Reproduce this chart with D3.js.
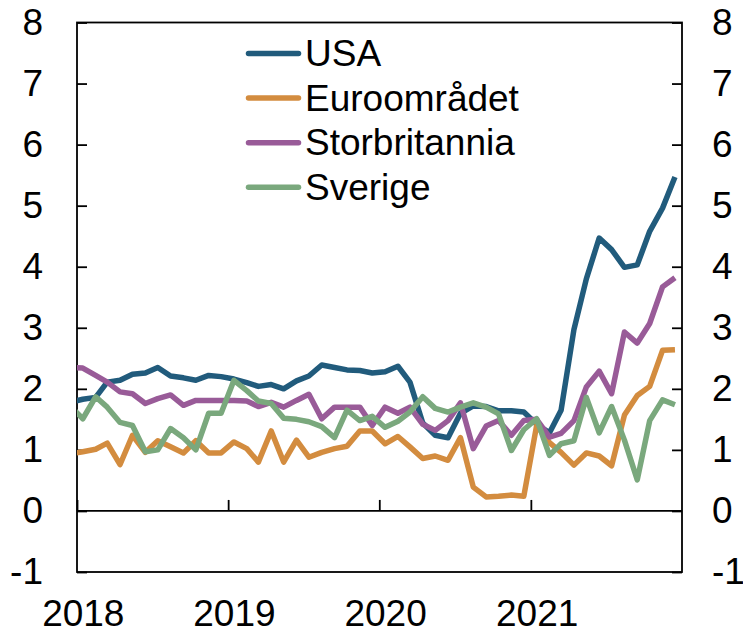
<!DOCTYPE html>
<html>
  <head>
    <meta charset="utf-8">
    <script src="https://d3js.org/d3.v7.min.js"></script>
    <style>
      body { margin: 0; background: #fff; }
      text { font-family: "Liberation Sans", Arial, sans-serif; }
    </style>
  </head>
  <body>
    <svg width="743" height="632"></svg>
    <script>
      // monthly values, Dec 2017 .. Dec 2021 (first point sits left of the frame and is clipped)
      var startMonth = "2017-12";
      var usa = [1.78,
        1.83, 1.86, 2.11, 2.14, 2.24, 2.26, 2.35, 2.21, 2.18, 2.14, 2.22, 2.2,
        2.16, 2.1, 2.04, 2.07, 2.0, 2.13, 2.21, 2.39, 2.35, 2.31, 2.3, 2.26,
        2.28, 2.37, 2.11, 1.44, 1.24, 1.2, 1.6, 1.72, 1.71, 1.64, 1.64, 1.62,
        1.42, 1.28, 1.65, 2.97, 3.8, 4.47, 4.28, 3.99, 4.03, 4.58, 4.96, 5.47];
      var euro = [0.93,
        0.97, 1.01, 1.11, 0.76, 1.24, 0.96, 1.15, 1.05, 0.95, 1.15, 0.95, 0.95,
        1.13, 1.02, 0.8, 1.31, 0.8, 1.16, 0.88, 0.96, 1.02, 1.06, 1.31, 1.31,
        1.1, 1.22, 1.05, 0.86, 0.9, 0.83, 1.2, 0.39, 0.23, 0.24, 0.26, 0.24,
        1.4, 1.12, 0.96, 0.75, 0.95, 0.9, 0.74, 1.57, 1.89, 2.04, 2.63, 2.64];
      var uk = [2.35,
        2.34, 2.22, 2.11, 1.95, 1.92, 1.76, 1.84, 1.9, 1.73, 1.81, 1.81, 1.81,
        1.81, 1.8, 1.71, 1.78, 1.7, 1.81, 1.91, 1.51, 1.7, 1.7, 1.7, 1.4,
        1.7, 1.6, 1.7, 1.42, 1.32, 1.48, 1.77, 1.02, 1.39, 1.48, 1.24, 1.48,
        1.5, 1.21, 1.27, 1.48, 2.03, 2.29, 1.92, 2.93, 2.75, 3.07, 3.67, 3.82];
      var sverige = [1.72,
        1.51, 1.87, 1.7, 1.45, 1.4, 0.97, 1.0, 1.35, 1.2, 1.0, 1.6, 1.6,
        2.14, 1.97, 1.8, 1.76, 1.52, 1.5, 1.46, 1.38, 1.2, 1.65, 1.48, 1.55,
        1.37, 1.47, 1.62, 1.87, 1.68, 1.62, 1.7, 1.77, 1.7, 1.59, 0.99, 1.33,
        1.51, 0.91, 1.1, 1.15, 1.86, 1.28, 1.71, 1.16, 0.51, 1.48, 1.82, 1.74];

      var seriesNames = ["USA", "Euroområdet", "Storbritannia", "Sverige"];
      var seriesColors = ["#215b7c", "#d38c3f", "#995b98", "#7aa87d"];
      var yTicks = [-1, 0, 1, 2, 3, 4, 5, 6, 7, 8];
      var years = [2018, 2019, 2020, 2021];

      var series = [usa, euro, uk, sverige];

      var svg = d3.select("svg");
      var plotL = 77, plotR = 682, plotT = 22.5, plotB = 572;

      var parse = d3.timeParse("%Y-%m");
      var t0 = parse(startMonth);
      // a point sits at the middle of its month
      function monthDate(i) {
        return d3.timeDay.offset(d3.timeMonth.offset(t0, i), 14);
      }

      var x = d3.scaleTime()
        .domain([new Date(2018, 0, 1), new Date(2022, 0, 1)])
        .range([plotL, plotR]);
      var y = d3.scaleLinear().domain([-1, 8]).range([plotB, plotT]);

      svg.append("clipPath").attr("id", "plot")
        .append("rect")
        .attr("x", plotL).attr("y", plotT)
        .attr("width", plotR - plotL).attr("height", plotB - plotT);

      // left / right axes with inward ticks, plain hyphen for minus
      var fs = 37;
      var plain = function (d) { return String(d); };
      var gl = svg.append("g")
        .attr("transform", "translate(" + plotL + ",0)")
        .call(d3.axisLeft(y).tickValues(yTicks).tickFormat(plain)
          .tickSizeInner(-10).tickSizeOuter(0).tickPadding(34));
      var gr = svg.append("g")
        .attr("transform", "translate(" + plotR + ",0)")
        .call(d3.axisRight(y).tickValues(yTicks).tickFormat(plain)
          .tickSizeInner(-10).tickSizeOuter(0).tickPadding(30));
      [gl, gr].forEach(function (g) {
        g.select(".domain").remove();
        g.selectAll(".tick line").attr("stroke", "#000").attr("stroke-width", 1.8);
        g.selectAll(".tick text").style("font-size", fs + "px").attr("fill", "#000");
      });

      // year ticks on the zero line
      var gx = svg.append("g")
        .attr("transform", "translate(0," + y(0) + ")")
        .call(d3.axisBottom(x)
          .tickValues(years.map(function (d) { return new Date(d, 0, 1); }))
          .tickSizeInner(-11).tickSizeOuter(0).tickFormat(""));
      gx.select(".domain").remove();
      gx.selectAll(".tick line").attr("stroke", "#000").attr("stroke-width", 1.8);

      // year labels, centred on January
      var gy = svg.append("g")
        .attr("transform", "translate(0," + plotB + ")")
        .call(d3.axisBottom(x)
          .tickValues(years.map(function (d) { return new Date(d, 0, 15); }))
          .tickSize(0).tickPadding(28).tickFormat(d3.timeFormat("%Y")));
      gy.select(".domain").remove();
      gy.selectAll(".tick text").style("font-size", fs + "px").attr("fill", "#000");

      // frame and zero line
      svg.append("rect")
        .attr("x", plotL).attr("y", plotT)
        .attr("width", plotR - plotL).attr("height", plotB - plotT)
        .attr("fill", "none").attr("stroke", "#000").attr("stroke-width", 1.8);
      svg.append("line")
        .attr("x1", plotL).attr("x2", plotR)
        .attr("y1", y(0)).attr("y2", y(0))
        .attr("stroke", "#000").attr("stroke-width", 1.8);

      var line = d3.line()
        .x(function (d, i) { return x(monthDate(i)); })
        .y(function (d) { return y(d); });

      var lines = svg.append("g").attr("clip-path", "url(#plot)");
      series.forEach(function (s, k) {
        lines.append("path")
          .datum(s)
          .attr("d", line)
          .attr("fill", "none")
          .attr("stroke", seriesColors[k])
          .attr("stroke-width", 5.5)
          .attr("stroke-linejoin", "round");
      });

      // legend
      var legend = svg.append("g");
      seriesNames.forEach(function (name, k) {
        var ly = 53.5 + k * 44.6;
        legend.append("line")
          .attr("x1", 248.5).attr("x2", 298.5)
          .attr("y1", ly).attr("y2", ly)
          .attr("stroke", seriesColors[k])
          .attr("stroke-width", 5.5)
          .attr("stroke-linecap", "round");
        legend.append("text")
          .attr("x", 305).attr("y", ly + 12.5)
          .style("font-size", fs + "px")
          .text(name);
      });
    </script>
  </body>
</html>
